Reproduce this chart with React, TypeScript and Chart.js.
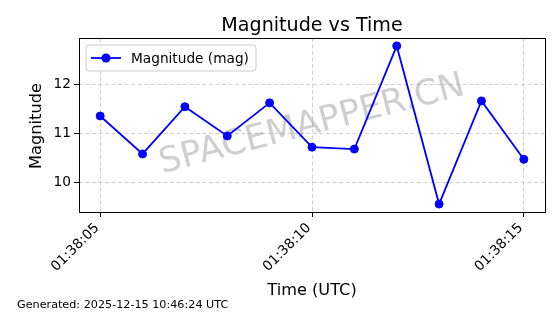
import React, { useEffect, useRef } from "react";
import { Chart, registerables } from "chart.js";

Chart.register(...registerables);

const times = ["01:38:05", "01:38:06", "01:38:07", "01:38:08", "01:38:09", "01:38:10", "01:38:11", "01:38:12", "01:38:13", "01:38:14", "01:38:15"];
const magnitudes = [11.36, 10.58, 11.55, 10.95, 11.63, 10.72, 10.68, 12.8, 9.55, 11.67, 10.47];
const xTickLabels = ["01:38:05", "01:38:10", "01:38:15"];
const yTicks = [10, 11, 12];
const seriesLabel = "Magnitude (mag)";
const titleText = "Magnitude vs Time";
const xTitle = "Time (UTC)";
const yTitle = "Magnitude";
const watermarkText = "SPACEMAPPER.CN";
const footerText = "Generated: 2025-12-15 10:46:24 UTC";

const FONT = "'DejaVu Sans', sans-serif";
const BLUE = "#0000ff";

const toSec = (s: string) => {
  const [h, m, sec] = s.split(":").map(Number);
  return h * 3600 + m * 60 + sec;
};
const pad2 = (n: number) => String(Math.round(n)).padStart(2, "0");
const fmtSec = (v: number) => {
  const h = Math.floor(v / 3600);
  const m = Math.floor((v % 3600) / 60);
  const s = v % 60;
  return `${pad2(h)}:${pad2(m)}:${pad2(s)}`;
};

export default function App() {
  const ref = useRef<HTMLCanvasElement | null>(null);

  useEffect(() => {
    if (!ref.current) return;
    const xs = times.map(toSec);
    const xMin0 = Math.min(...xs), xMax0 = Math.max(...xs);
    const yMin0 = Math.min(...magnitudes), yMax0 = Math.max(...magnitudes);
    const xm = (xMax0 - xMin0) * 0.05;
    const ym = (yMax0 - yMin0) * 0.05;
    const xTickVals = xTickLabels.map(toSec);

    const decor = {
      id: "decor",
      beforeDatasetsDraw(chart: any) {
        const { ctx, chartArea } = chart;
        const cx = (chartArea.left + chartArea.right) / 2;
        const cy = (chartArea.top + chartArea.bottom) / 2;
        ctx.save();
        ctx.translate(cx, cy);
        ctx.rotate((-14.5 * Math.PI) / 180);
        ctx.font = `35px ${FONT}`;
        ctx.fillStyle = "rgba(128,128,128,0.38)";
        ctx.textAlign = "center";
        ctx.textBaseline = "middle";
        ctx.fillText(watermarkText, 0, 0);
        ctx.restore();
      },
      afterDraw(chart: any) {
        const { ctx, chartArea } = chart;
        const { left, right, top, bottom } = chartArea;
        ctx.save();
        // frame
        ctx.strokeStyle = "#000";
        ctx.lineWidth = 1;
        ctx.strokeRect(Math.round(left) + 0.5, Math.round(top) + 0.5, Math.round(right - left), Math.round(bottom - top));
        // title
        const cx = (left + right) / 2;
        ctx.fillStyle = "#000";
        ctx.textAlign = "center";
        ctx.textBaseline = "alphabetic";
        ctx.font = `19.1px ${FONT}`;
        ctx.fillText(titleText, cx, 31);
        // x title
        ctx.font = `16.2px ${FONT}`;
        ctx.fillText(xTitle, cx, 295);
        // y title
        ctx.save();
        ctx.translate(41, (top + bottom) / 2 + 1);
        ctx.rotate(-Math.PI / 2);
        ctx.fillText(yTitle, 0, 0);
        ctx.restore();
        // footer
        ctx.textAlign = "left";
        ctx.font = `11.2px ${FONT}`;
        ctx.fillText(footerText, 17, 308);
        // legend
        const lx = left + 7, ly = top + 7, lw = 170, lh = 26;
        ctx.beginPath();
        const r = 3;
        ctx.moveTo(lx + r, ly);
        ctx.arcTo(lx + lw, ly, lx + lw, ly + lh, r);
        ctx.arcTo(lx + lw, ly + lh, lx, ly + lh, r);
        ctx.arcTo(lx, ly + lh, lx, ly, r);
        ctx.arcTo(lx, ly, lx + lw, ly, r);
        ctx.closePath();
        ctx.fillStyle = "rgba(255,255,255,0.8)";
        ctx.fill();
        ctx.strokeStyle = "#cccccc";
        ctx.lineWidth = 1;
        ctx.stroke();
        const my = ly + lh / 2;
        ctx.strokeStyle = BLUE;
        ctx.lineWidth = 1.8;
        ctx.beginPath();
        ctx.moveTo(lx + 5, my);
        ctx.lineTo(lx + 35, my);
        ctx.stroke();
        ctx.fillStyle = BLUE;
        ctx.beginPath();
        ctx.arc(lx + 20, my, 4.6, 0, Math.PI * 2);
        ctx.fill();
        ctx.fillStyle = "#000";
        ctx.font = `13.7px ${FONT}`;
        ctx.textBaseline = "middle";
        ctx.fillText(seriesLabel, lx + 45, my + 1);
        ctx.restore();
      },
    };

    const chart = new Chart(ref.current, {
      type: "line",
      data: {
        datasets: [
          {
            label: seriesLabel,
            data: xs.map((x, i) => ({ x, y: magnitudes[i] })),
            borderColor: BLUE,
            backgroundColor: BLUE,
            borderWidth: 1.8,
            pointRadius: 4,
            pointBorderWidth: 1,
            pointBackgroundColor: BLUE,
            pointBorderColor: BLUE,
            tension: 0,
          },
        ],
      },
      options: {
        responsive: false,
        animation: false,
        events: [],
        layout: { padding: { left: 0, top: 38, right: 15, bottom: 0 } },
        plugins: {
          legend: { display: false },
          title: { display: false },
          tooltip: { enabled: false },
        },
        scales: {
          x: {
            type: "linear",
            min: xMin0 - xm,
            max: xMax0 + xm,
            afterBuildTicks: (scale: any) => {
              scale.ticks = xTickVals.map((v) => ({ value: v }));
            },
            afterFit: (scale: any) => {
              scale.height = 102;
            },
            ticks: {
              autoSkip: false,
              maxRotation: 45,
              minRotation: 45,
              padding: 3,
              labelOffset: -3,
              color: "#000",
              font: { family: FONT, size: 13.7 },
              callback: (v: any) => fmtSec(Number(v)),
            },
            grid: {
              color: "rgba(176,176,176,0.6)",
              lineWidth: 1,
              tickColor: "#000",
              tickLength: 5,
              tickWidth: 1,
              tickBorderDash: [],
            },
            border: { display: false, dash: [4, 2.5] },
          },
          y: {
            type: "linear",
            min: yMin0 - ym,
            max: yMax0 + ym,
            afterBuildTicks: (scale: any) => {
              scale.ticks = yTicks.map((v) => ({ value: v }));
            },
            afterFit: (scale: any) => {
              scale.width = 79;
            },
            ticks: {
              padding: 3,
              color: "#000",
              font: { family: FONT, size: 13.7 },
              callback: (v: any) => String(v),
            },
            grid: {
              color: "rgba(176,176,176,0.6)",
              lineWidth: 1,
              tickColor: "#000",
              tickLength: 5,
              tickWidth: 1,
              tickBorderDash: [],
            },
            border: { display: false, dash: [4, 2.5] },
          },
        },
      },
      plugins: [decor],
    });
    return () => chart.destroy();
  }, []);

  return (
    <div style={{ position: "absolute", left: 0, top: 0, width: 560, height: 314, background: "#fff" }}>
      <canvas ref={ref} width={560} height={314} style={{ width: 560, height: 314, display: "block" }} />
    </div>
  );
}
